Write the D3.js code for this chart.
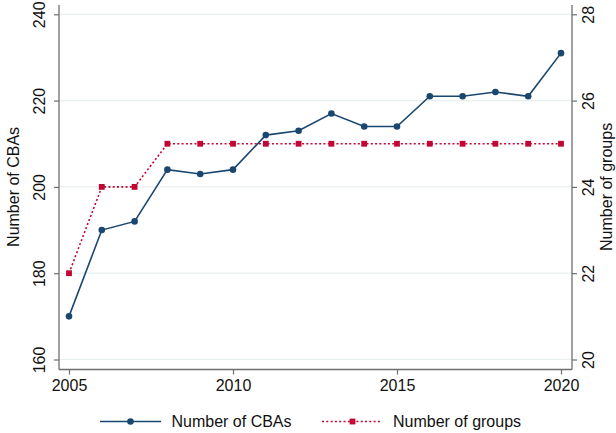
<!DOCTYPE html>
<html>
<head>
<meta charset="utf-8">
<script src="https://cdn.jsdelivr.net/npm/d3@7"></script>
<style>
  html, body { margin: 0; padding: 0; background: #fff; }
  svg { display: block; font-family: "Liberation Sans", Arial, Helvetica, sans-serif; }
</style>
</head>
<body>
<svg id="chart" width="616" height="433"></svg>
<script>
// Yearly counts of collective bargaining agreements and groups
const years = [2005, 2006, 2007, 2008, 2009, 2010, 2011, 2012, 2013, 2014, 2015, 2016, 2017, 2018, 2019, 2020];
const cbaCounts = [170, 190, 192, 204, 203, 204, 212, 213, 217, 214, 214, 221, 221, 222, 221, 231];
const groupCounts = [22, 24, 24, 25, 25, 25, 25, 25, 25, 25, 25, 25, 25, 25, 25, 25];
const xTicks = [2005, 2010, 2015, 2020];
const leftTicks = [160, 180, 200, 220, 240];
const rightTicks = [20, 22, 24, 26, 28];

const navy = "#1a476f";
const red = "#c10534";
const axisColor = "#6e6e6e";
const gridColor = "#e8eff0";
const textColor = "#111";

const svg = d3.select("#chart");
const plot = { left: 59, right: 572, top: 5, bottom: 369.5 };

const x = d3.scaleLinear().domain([2005, 2020]).range([69, 561]);
const yL = d3.scaleLinear().domain([160, 240]).range([359.5, 14.3]);
const yR = d3.scaleLinear().domain([20, 28]).range([359.5, 14.3]);

// horizontal gridlines
svg.append("g").selectAll("line").data(leftTicks).join("line")
  .attr("x1", plot.left).attr("x2", plot.right)
  .attr("y1", d => yL(d)).attr("y2", d => yL(d))
  .attr("stroke", gridColor).attr("stroke-width", 1.2);

// axes
function styleAxis(g) {
  g.select(".domain").attr("stroke", axisColor).attr("stroke-width", 1.3);
  g.selectAll(".tick line").attr("stroke", axisColor).attr("stroke-width", 1.2);
  g.selectAll(".tick text").attr("fill", textColor).attr("font-size", 16)
    .attr("font-family", "Liberation Sans, Arial, sans-serif");
}

const xAxis = d3.axisBottom(x).tickValues(xTicks).tickFormat(d3.format("d")).tickSize(5).tickSizeOuter(0).tickPadding(5);
const gx = svg.append("g").attr("transform", `translate(0,${plot.bottom})`).call(xAxis);
gx.select(".domain").attr("d", `M${plot.left},0H${plot.right}`);
styleAxis(gx);

const leftAxis = d3.axisLeft(yL).tickValues(leftTicks).tickSize(5).tickSizeOuter(0);
const gl = svg.append("g").attr("transform", `translate(${plot.left},0)`).call(leftAxis);
gl.select(".domain").attr("d", `M0,${plot.top}V${plot.bottom}`);
styleAxis(gl);
gl.selectAll(".tick text")
  .attr("x", null).attr("dy", null)
  .attr("text-anchor", "middle")
  .attr("transform", "translate(-14,0) rotate(-90)");

const rightAxis = d3.axisRight(yR).tickValues(rightTicks).tickSize(5).tickSizeOuter(0);
const gr = svg.append("g").attr("transform", `translate(${plot.right},0)`).call(rightAxis);
gr.select(".domain").attr("d", `M0,${plot.top}V${plot.bottom}`);
styleAxis(gr);
gr.selectAll(".tick text")
  .attr("x", null).attr("dy", null)
  .attr("text-anchor", "middle")
  .attr("transform", "translate(22,0) rotate(-90)");

// axis titles
svg.append("text")
  .attr("transform", `translate(19,${(yL(160) + yL(240)) / 2}) rotate(-90)`)
  .attr("text-anchor", "middle").attr("font-size", 16).attr("fill", textColor)
  .text("Number of CBAs");
svg.append("text")
  .attr("transform", `translate(612,${(yR(20) + yR(28)) / 2}) rotate(-90)`)
  .attr("text-anchor", "middle").attr("font-size", 16).attr("fill", textColor)
  .text("Number of groups");

// series
const cbaLine = d3.line().x((d, i) => x(years[i])).y(d => yL(d));
const groupLine = d3.line().x((d, i) => x(years[i])).y(d => yR(d));

svg.append("path").datum(groupCounts)
  .attr("d", groupLine).attr("fill", "none")
  .attr("stroke", red).attr("stroke-width", 1.6).attr("stroke-dasharray", "2,2.3");

svg.append("path").datum(cbaCounts)
  .attr("d", cbaLine).attr("fill", "none")
  .attr("stroke", navy).attr("stroke-width", 1.6);

svg.append("g").selectAll("rect").data(groupCounts).join("rect")
  .attr("x", (d, i) => x(years[i]) - 2.9).attr("y", d => yR(d) - 2.9)
  .attr("width", 5.8).attr("height", 5.8).attr("fill", red);

svg.append("g").selectAll("circle").data(cbaCounts).join("circle")
  .attr("cx", (d, i) => x(years[i])).attr("cy", d => yL(d))
  .attr("r", 3.3).attr("fill", navy);

// legend
const legendY = 421.5;
const lg = svg.append("g");
lg.append("line").attr("x1", 100).attr("x2", 161).attr("y1", legendY).attr("y2", legendY)
  .attr("stroke", navy).attr("stroke-width", 1.6);
lg.append("circle").attr("cx", 130.5).attr("cy", legendY).attr("r", 3.3).attr("fill", navy);
lg.append("text").attr("x", 171.5).attr("y", legendY).attr("dy", "0.35em")
  .attr("font-size", 16).attr("fill", textColor).text("Number of CBAs");

lg.append("line").attr("x1", 322).attr("x2", 382).attr("y1", legendY).attr("y2", legendY)
  .attr("stroke", red).attr("stroke-width", 1.6).attr("stroke-dasharray", "2,2.3");
lg.append("rect").attr("x", 352.5 - 2.9).attr("y", legendY - 2.9).attr("width", 5.8).attr("height", 5.8).attr("fill", red);
lg.append("text").attr("x", 393).attr("y", legendY).attr("dy", "0.35em")
  .attr("font-size", 16).attr("fill", textColor).text("Number of groups");
</script>
</body>
</html>
